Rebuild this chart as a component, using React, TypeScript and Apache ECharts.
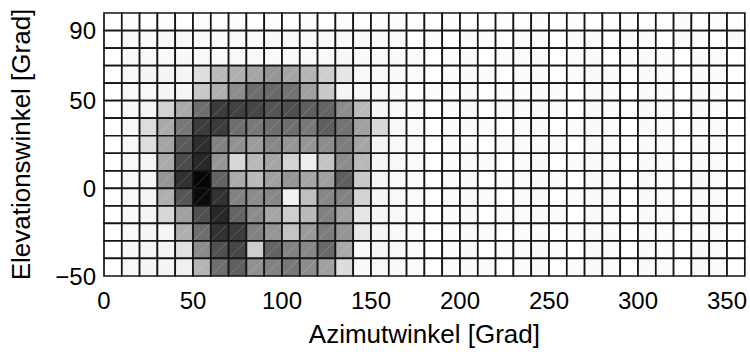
import React, { useEffect, useRef } from 'react';
import * as echarts from 'echarts';

// Azimuth bins (lower edge, degrees) and elevation bins (lower edge, degrees)
const azimuthBins = [0, 10, 20, 30, 40, 50, 60, 70, 80, 90, 100, 110, 120, 130, 140, 150, 160, 170,
  180, 190, 200, 210, 220, 230, 240, 250, 260, 270, 280, 290, 300, 310, 320, 330, 340, 350];
const elevationBins = [90, 80, 70, 60, 50, 40, 30, 20, 10, 0, -10, -20, -30, -40, -50];

const xTickLabels = [0, 50, 100, 150, 200, 250, 300, 350];
const yTickLabels = [-50, 0, 50, 90];

// Darkness per cell (0 = white, 255 = black), one array per elevation band, azimuth 0..350
const row90 = [0, 2, 0, 2, 0, 2, 0, 2, 0, 2, 0, 2, 0, 2, 0, 2, 2, 0, 0, 2, 0, 0, 2, 0, 3, 0, 2, 0, 0, 2, 0, 0, 3, 0, 2, 0];
const row80 = [0, 7, 6, 6, 7, 6, 6, 7, 6, 6, 7, 6, 6, 7, 6, 6, 5, 0, 4, 0, 5, 4, 0, 4, 5, 0, 4, 5, 0, 4, 5, 0, 5, 4, 0, 5];
const row70 = [0, 7, 6, 6, 7, 7, 6, 7, 7, 6, 7, 6, 6, 7, 6, 6, 5, 4, 0, 4, 5, 0, 4, 4, 5, 0, 4, 5, 0, 4, 5, 4, 0, 5, 4, 0];
const row60 = [0, 7, 10, 10, 10, 33, 70, 80, 90, 105, 90, 75, 50, 25, 7, 7, 5, 4, 0, 4, 5, 4, 0, 4, 5, 0, 4, 5, 4, 0, 5, 4, 0, 5, 4, 0];
const row50 = [0, 7, 7, 10, 10, 55, 80, 115, 145, 150, 140, 95, 55, 10, 7, 7, 5, 0, 4, 4, 5, 0, 4, 4, 5, 4, 0, 5, 4, 0, 5, 4, 0, 5, 4, 0];
const row40 = [0, 7, 10, 45, 85, 145, 195, 190, 185, 170, 175, 160, 155, 115, 70, 10, 6, 4, 0, 4, 5, 0, 4, 4, 5, 4, 0, 5, 4, 0, 5, 4, 0, 5, 4, 0];
const row30 = [0, 7, 35, 85, 135, 195, 195, 145, 135, 145, 145, 135, 160, 140, 95, 40, 7, 4, 0, 4, 5, 4, 0, 4, 5, 0, 4, 5, 4, 0, 5, 4, 0, 5, 4, 0];
const row20 = [0, 7, 35, 90, 165, 210, 125, 110, 100, 120, 105, 105, 115, 130, 90, 10, 6, 4, 0, 4, 5, 0, 4, 4, 5, 4, 0, 5, 4, 0, 5, 4, 0, 5, 4, 0];
const row10 = [0, 7, 10, 85, 180, 215, 105, 40, 70, 90, 45, 17, 60, 115, 70, 10, 6, 4, 0, 4, 5, 4, 0, 4, 5, 0, 4, 5, 4, 0, 5, 4, 0, 5, 4, 0];
const row0 = [0, 7, 10, 105, 205, 250, 155, 85, 70, 95, 105, 90, 95, 160, 55, 10, 6, 4, 0, 4, 5, 0, 4, 4, 5, 4, 0, 5, 4, 0, 5, 4, 0, 5, 4, 0];
const rowM10 = [0, 7, 10, 80, 170, 245, 205, 125, 115, 120, 15, 65, 120, 125, 45, 10, 6, 4, 0, 4, 5, 4, 0, 4, 5, 0, 4, 5, 4, 0, 5, 4, 0, 5, 4, 0];
const rowM20 = [0, 7, 10, 40, 95, 175, 215, 155, 115, 90, 50, 70, 125, 95, 25, 10, 6, 4, 0, 4, 5, 0, 4, 4, 5, 4, 0, 5, 4, 0, 5, 4, 0, 5, 4, 0];
const rowM30 = [0, 7, 10, 10, 80, 145, 205, 195, 125, 105, 60, 100, 130, 105, 23, 10, 6, 4, 0, 4, 5, 4, 0, 4, 5, 0, 4, 5, 4, 0, 5, 4, 0, 5, 4, 0];
const rowM40 = [0, 7, 10, 10, 30, 115, 175, 185, 50, 155, 125, 120, 150, 85, 5, 10, 6, 4, 0, 4, 5, 0, 4, 4, 5, 4, 0, 5, 4, 0, 5, 4, 0, 5, 4, 0];
const rowM50 = [0, 7, 10, 10, 15, 75, 145, 160, 110, 125, 135, 115, 95, 35, 5, 7, 5, 4, 0, 4, 5, 4, 0, 4, 5, 0, 4, 5, 4, 0, 5, 4, 0, 5, 4, 0];

const rows = [row90, row80, row70, row60, row50, row40, row30, row20, row10, row0, rowM10, rowM20, rowM30, rowM40, rowM50];

const FONT = 'Liberation Sans, Arial, Helvetica, sans-serif';

export default function App() {
  const ref = useRef<HTMLDivElement>(null);

  useEffect(() => {
    if (!ref.current) return;
    const chart = echarts.init(ref.current, null, { renderer: 'svg' });

    const data: number[][] = [];
    rows.forEach((row, ri) => {
      row.forEach((v, ci) => {
        data.push([azimuthBins[ci], elevationBins[ri], v]);
      });
    });

    chart.setOption({
      animation: false,
      backgroundColor: '#ffffff',
      grid: { left: 103, right: 5, top: 13, bottom: 73, containLabel: false },
      xAxis: {
        type: 'value',
        min: 0,
        max: 360,
        interval: 10,
        name: 'Azimutwinkel [Grad]',
        nameLocation: 'middle',
        nameGap: 45,
        nameTextStyle: { fontFamily: FONT, fontSize: 26, color: '#000' },
        axisLine: { show: false },
        axisTick: { show: false },
        splitLine: { show: false },
        axisLabel: {
          margin: 12,
          fontFamily: FONT,
          fontSize: 24,
          color: '#000',
          formatter: (v: number) => (xTickLabels.includes(v) ? String(v) : ''),
        },
      },
      yAxis: {
        type: 'value',
        min: -50,
        max: 100,
        interval: 10,
        name: 'Elevationswinkel [Grad]',
        nameLocation: 'middle',
        nameGap: 70,
        nameRotate: 90,
        nameTextStyle: { fontFamily: FONT, fontSize: 26, color: '#000' },
        axisLine: { show: false },
        axisTick: { show: false },
        splitLine: { show: false },
        axisLabel: {
          margin: 8,
          fontFamily: FONT,
          fontSize: 24,
          color: '#000',
          formatter: (v: number) =>
            yTickLabels.includes(v) ? (v < 0 ? '\u2212' + String(-v) : String(v)) : '',
        },
      },
      series: [
        {
          type: 'custom',
          data,
          encode: { x: 0, y: 1 },
          renderItem: (params: any, api: any) => {
            const az = api.value(0);
            const el = api.value(1);
            const v = api.value(2);
            const tl = api.coord([az, el + 10]);
            const br = api.coord([az + 10, el]);
            const g = Math.max(0, Math.min(255, Math.round(255 - v)));
            return {
              type: 'group',
              children: [
                {
                  type: 'rect',
                  shape: { x: tl[0], y: tl[1], width: br[0] - tl[0], height: br[1] - tl[1] },
                  style: { fill: `rgb(${g},${g},${g})`, stroke: '#151515', lineWidth: 1.7 },
                },
                {
                  type: 'line',
                  shape: { x1: tl[0] + 1, y1: br[1] - 1, x2: br[0] - 1, y2: tl[1] + 1 },
                  style: { stroke: 'rgba(255,255,255,0.3)', lineWidth: 0.6 },
                },
              ],
            };
          },
        },
      ],
    });

    return () => chart.dispose();
  }, []);

  return (
    <div
      ref={ref}
      style={{ position: 'fixed', left: 0, top: 0, width: 750, height: 352, background: '#fff' }}
    />
  );
}
